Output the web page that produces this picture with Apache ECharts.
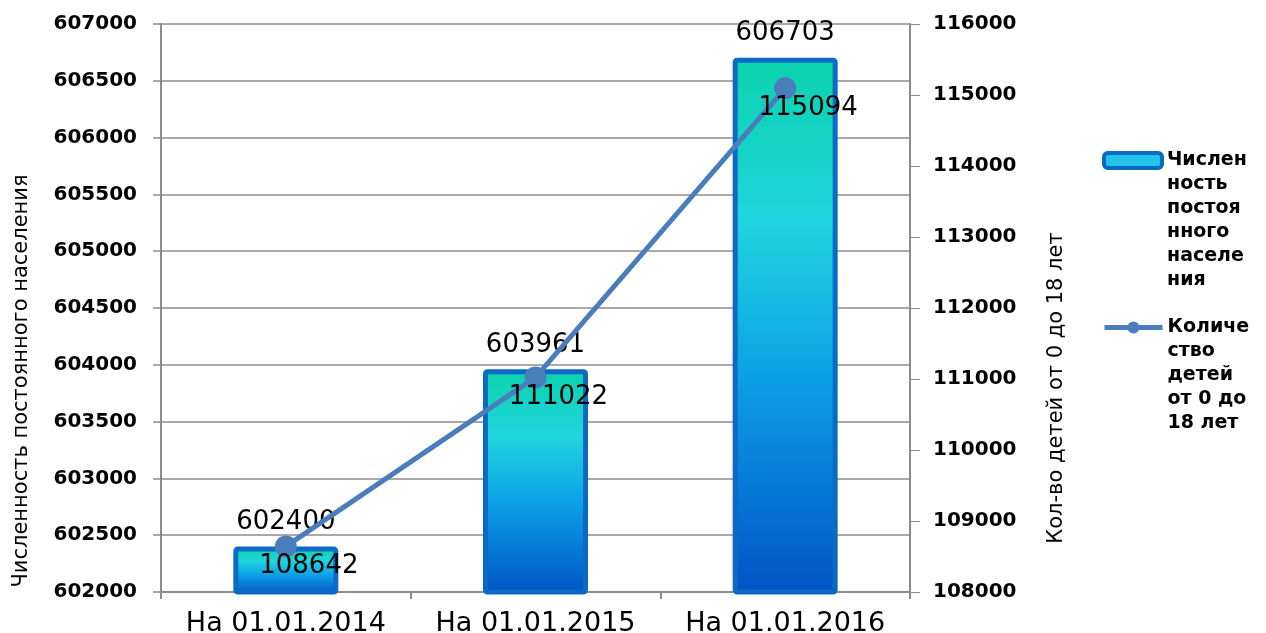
<!DOCTYPE html>
<html>
<head>
<meta charset="utf-8">
<script src="https://cdn.jsdelivr.net/npm/echarts@6/dist/echarts.min.js"></script>
<style>
  html, body { margin: 0; padding: 0; background: #fff; }
  #chart { width: 1266px; height: 633px; }
</style>
</head>
<body>
<div id="chart"></div>
<script>
var categories = ['На 01.01.2014', 'На 01.01.2015', 'На 01.01.2016'];
var population = [602400, 603961, 606703];
var children = [108642, 111022, 115094];

var popName = 'Численность постоянного населения';
var kidsName = 'Количество детей от 0 до 18 лет';
// how the legend breaks the names
var popLegendLines = ['Числен', 'ность', 'постоя', 'нного', 'населе', 'ния'];
var kidsLegendLines = ['Количе', 'ство', 'детей', 'от 0 до', '18 лет'];

var leftTitle = 'Численность постоянного населения';
var rightTitle = 'Кол-во детей от 0 до 18 лет';

var FONT = 'DejaVu Sans';
var LINE_H = 24;

var myChart = echarts.init(document.getElementById('chart'));

var barFill = new echarts.graphic.LinearGradient(0, 0, 0, 1, [
    {offset: 0, color: '#0BD2AC'},
    {offset: 0.3, color: '#1FD5DE'},
    {offset: 0.6, color: '#0C9FE6'},
    {offset: 1, color: '#0054C6'}
]);

function plain(v) {
    return String(v);
}

// legend text is centred on the icon, so blank lines on top keep the
// first real line level with the icon
function legendFor(name, lines, iconTop, icon) {
    var blanks = [];
    for (var i = 1; i < lines.length; i++) blanks.push('');
    var text = blanks.concat(lines).join('\n');
    var boxH = (lines.length * 2 - 1) * LINE_H;
    return {
        orient: 'vertical',
        left: 1102,
        top: iconTop + 7.5 - boxH / 2,
        padding: 0,
        itemWidth: 58,
        itemHeight: 15,
        itemGap: 0,
        data: [icon],
        lineStyle: { width: 5 },
        formatter: function () { return text; },
        textStyle: {
            fontFamily: FONT,
            fontWeight: 'bold',
            fontSize: 19,
            lineHeight: LINE_H,
            color: '#000'
        }
    };
}

var option = {
    animation: false,
    backgroundColor: '#fff',
    grid: {
        left: 161,
        right: 356,
        top: 24,
        bottom: 41,
        containLabel: false,
        outerBoundsMode: 'none'
    },
    legend: [
        legendFor(popName, popLegendLines, 153, {
            name: popName,
            itemStyle: { color: '#22C4EA', borderColor: '#0B6BC4', borderWidth: 4 }
        }),
        legendFor(kidsName, kidsLegendLines, 320, { name: kidsName })
    ],
    graphic: [
        {
            type: 'text',
            x: 22,
            y: 381,
            rotation: Math.PI / 2,
            style: {
                text: leftTitle,
                fontFamily: FONT,
                fontSize: 21,
                fill: '#000',
                textAlign: 'center',
                textVerticalAlign: 'middle'
            }
        },
        {
            type: 'text',
            x: 1057,
            y: 388,
            rotation: Math.PI / 2,
            style: {
                text: rightTitle,
                fontFamily: FONT,
                fontSize: 21,
                fill: '#000',
                textAlign: 'center',
                textVerticalAlign: 'middle'
            }
        }
    ],
    xAxis: {
        type: 'category',
        data: categories,
        axisLine: { lineStyle: { color: '#8c8c8c', width: 2 } },
        axisTick: { show: true, length: 7, lineStyle: { color: '#8c8c8c', width: 2 } },
        axisLabel: {
            interval: 0,
            hideOverlap: false,
            fontFamily: FONT,
            fontSize: 27,
            color: '#000',
            margin: 18
        }
    },
    yAxis: [
        {
            type: 'value',
            min: 602000,
            max: 607000,
            interval: 500,
            position: 'left',
            axisLine: { show: true, lineStyle: { color: '#8c8c8c', width: 2 } },
            axisTick: { show: true, length: 8, lineStyle: { color: '#8c8c8c', width: 1.5 } },
            splitLine: { lineStyle: { color: '#8c8c8c', width: 1.5 } },
            axisLabel: {
                formatter: plain,
                fontFamily: FONT,
                fontWeight: 'bold',
                fontSize: 20,
                color: '#000',
                margin: 24
            }
        },
        {
            type: 'value',
            min: 108000,
            max: 116000,
            interval: 1000,
            position: 'right',
            axisLine: { show: true, lineStyle: { color: '#8c8c8c', width: 2 } },
            axisTick: { show: true, length: 10, lineStyle: { color: '#8c8c8c', width: 1 } },
            splitLine: { show: false },
            axisLabel: {
                formatter: plain,
                fontFamily: FONT,
                fontWeight: 'bold',
                fontSize: 20,
                color: '#000',
                margin: 23
            }
        }
    ],
    series: [
        {
            name: popName,
            type: 'bar',
            yAxisIndex: 0,
            barWidth: 105,
            data: population,
            itemStyle: {
                color: barFill,
                borderColor: '#0B6BC4',
                borderWidth: 5,
                borderRadius: 2
            },
            label: {
                show: true,
                position: 'top',
                distance: 11,
                fontFamily: FONT,
                fontSize: 26,
                color: '#000'
            },
            z: 2
        },
        {
            name: kidsName,
            type: 'line',
            yAxisIndex: 1,
            data: children,
            symbol: 'circle',
            symbolSize: 22,
            lineStyle: { color: '#4A7EBB', width: 5 },
            itemStyle: { color: '#4A7EBB' },
            label: {
                show: true,
                position: 'inside',
                offset: [23, 20],
                fontFamily: FONT,
                fontSize: 26,
                color: '#000'
            },
            z: 3
        }
    ]
};

myChart.setOption(option);
</script>
</body>
</html>
